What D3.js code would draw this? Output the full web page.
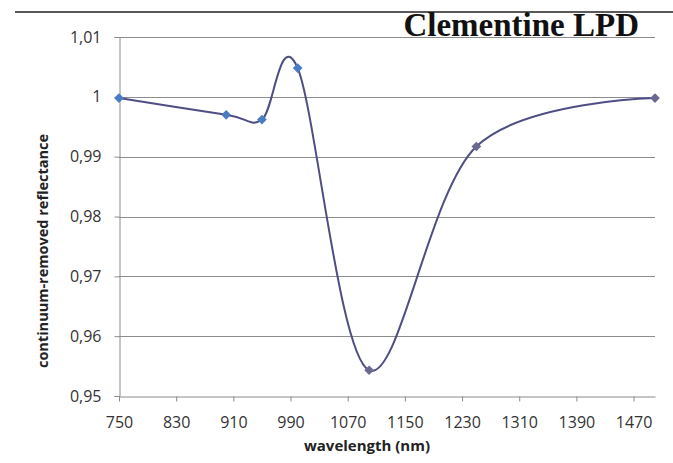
<!DOCTYPE html>
<html>
<head>
<meta charset="utf-8">
<script src="https://cdn.jsdelivr.net/npm/d3@7"></script>
<style>
  body { margin: 0; background: #fff; }
  text { font-family: "Open Sans", "Liberation Sans", sans-serif; }
</style>
</head>
<body>
<div id="chart"></div>
<script>
// data
var wavelengths = [750, 900, 950, 1000, 1100, 1250, 1500];
var reflectance = [0.9998, 0.9970, 0.9962, 1.0048, 0.9543, 0.9917, 0.9998];
var xTicks = [750, 830, 910, 990, 1070, 1150, 1230, 1310, 1390, 1470];
var yTicks = [0.95, 0.96, 0.97, 0.98, 0.99, 1, 1.01];

var W = 673, H = 463;
var margin = {top: 37, right: 18, bottom: 67, left: 119},
    width = W - margin.left - margin.right,
    height = H - margin.top - margin.bottom;

var svg = d3.select("#chart").append("svg")
    .attr("width", W)
    .attr("height", H);

// rule at the top of the page
svg.append("line")
    .attr("x1", 15).attr("x2", W)
    .attr("y1", 12).attr("y2", 12)
    .attr("stroke", "#222").attr("stroke-width", 1.5);

var g = svg.append("g")
    .attr("transform", "translate(" + margin.left + "," + margin.top + ")");

var x = d3.scaleLinear().domain([750, 1500]).range([0, width]);
var y = d3.scaleLinear().domain([0.95, 1.01]).range([height, 0]);

var fmt = function(d) { return d3.format("~g")(+d.toFixed(2)).replace(".", ","); };

// horizontal gridlines
g.append("g").selectAll("line")
    .data(yTicks.filter(function(d) { return d > 0.95; }))
    .enter().append("line")
    .attr("x1", 0).attr("x2", width)
    .attr("y1", function(d) { return Math.round(y(d)) + 0.5; })
    .attr("y2", function(d) { return Math.round(y(d)) + 0.5; })
    .attr("stroke", "#8c8c8c").attr("stroke-width", 1);

// y axis
var yAxis = g.append("g")
    .attr("transform", "translate(0.5,0)")
    .call(d3.axisLeft(y).tickValues(yTicks).tickFormat(fmt).tickSize(5).tickPadding(13));
yAxis.select(".domain").attr("stroke", "#8c8c8c");
yAxis.selectAll(".tick line").attr("stroke", "#8c8c8c");
yAxis.selectAll("text").attr("fill", "#333").style("font-size", "16px");

// x axis
var xAxis = g.append("g")
    .attr("transform", "translate(0," + (Math.round(height) + 0.5) + ")")
    .call(d3.axisBottom(x).tickValues(xTicks).tickFormat(d3.format("d"))
        .tickSize(5).tickSizeOuter(0).tickPadding(15));
xAxis.select(".domain").attr("stroke", "#8c8c8c");
xAxis.selectAll(".tick line").attr("stroke", "#8c8c8c");
xAxis.selectAll("text").attr("fill", "#333").style("font-size", "16px");

// the smoothed curve
var pts = wavelengths.map(function(w, i) { return [w, reflectance[i]]; });
var line = d3.line()
    .x(function(d) { return x(d[0]); })
    .y(function(d) { return y(d[1]); })
    .curve(d3.curveCardinal.tension(0));

g.append("path")
    .datum(pts)
    .attr("fill", "none")
    .attr("stroke", "#4e4e84")
    .attr("stroke-width", 2)
    .attr("d", line);

// diamond markers
g.append("g").selectAll("path")
    .data(pts)
    .enter().append("path")
    .attr("transform", function(d) { return "translate(" + x(d[0]) + "," + y(d[1]) + ")"; })
    .attr("d", d3.symbol().type(d3.symbolDiamond2).size(60))
    .attr("fill", function(d, i) { return i < 4 ? "#4a7cc4" : "#6a6a90"; });

// title
svg.append("text")
    .attr("x", 639).attr("y", 36)
    .attr("text-anchor", "end")
    .style("font-family", "'Liberation Serif', 'DejaVu Serif', serif")
    .style("font-weight", "bold")
    .style("font-size", "33px")
    .attr("fill", "#111")
    .text("Clementine LPD");

// axis titles
svg.append("text")
    .attr("transform", "translate(48,251) rotate(-90)")
    .attr("text-anchor", "middle")
    .style("font-weight", "bold")
    .style("font-size", "14.5px")
    .attr("fill", "#222")
    .text("continuum-removed reflectance");

svg.append("text")
    .attr("x", 367).attr("y", 451)
    .attr("text-anchor", "middle")
    .style("font-weight", "bold")
    .style("font-size", "15px")
    .attr("fill", "#222")
    .text("wavelength (nm)");
</script>
</body>
</html>
